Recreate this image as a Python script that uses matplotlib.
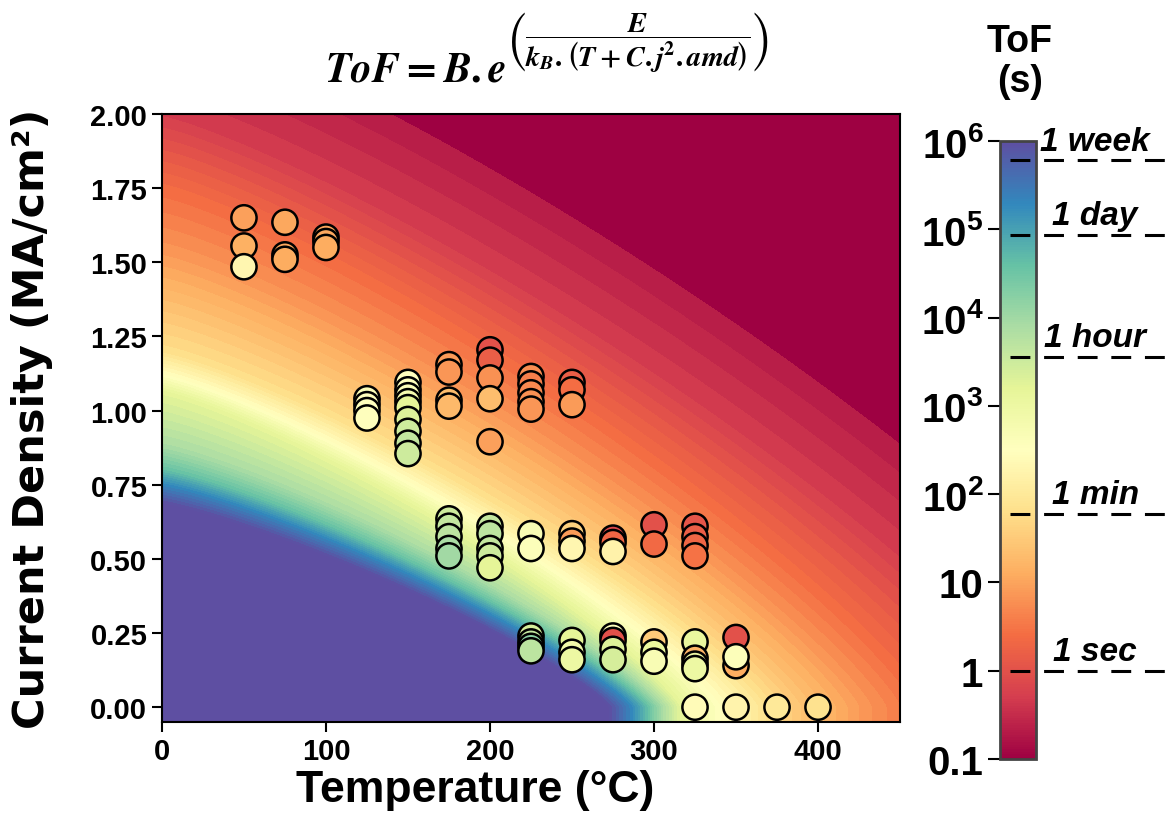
import numpy as np
import matplotlib
matplotlib.use("Agg")
import matplotlib.pyplot as plt
from matplotlib.colors import LogNorm, Normalize
import matplotlib.cm as cm

plt.rcParams['font.family'] = ['Liberation Sans', 'DejaVu Sans']
plt.rcParams['font.weight'] = 'bold'
plt.rcParams['mathtext.fontset'] = 'custom'
plt.rcParams['mathtext.rm'] = 'Liberation Sans:bold'
plt.rcParams['mathtext.bf'] = 'Liberation Sans:bold'
plt.rcParams['mathtext.it'] = 'Liberation Sans:bold:italic'

# ---------------- measured points (Temperature, current density, log10 ToF) -------------
temps = [50, 50, 50,
         75, 75, 75,
         100, 100, 100,
         125, 125, 125, 125,
         150, 150, 150, 150, 150, 150, 150, 150, 150,
         175, 175, 175, 175,
         200, 200, 200, 200, 200,
         225, 225, 225, 225, 225,
         250, 250, 250,
         175, 175, 175, 175, 175,
         200, 200, 200, 200, 200,
         225, 225,
         250, 250, 250,
         275, 275, 275,
         300, 300,
         325, 325, 325, 325,
         225, 225, 225, 225,
         250, 250, 250,
         275, 275, 275, 275,
         300, 300, 300,
         325, 325, 325, 325,
         350, 350, 350,
         325, 350, 375, 400]
current = [1.65, 1.555, 1.485,
           1.635, 1.525, 1.51,
           1.585, 1.57, 1.55,
           1.04, 1.02, 1.00, 0.975,
           1.095, 1.07, 1.05, 1.03, 1.01, 0.97, 0.93, 0.89, 0.855,
           1.155, 1.13, 1.035, 1.015,
           1.205, 1.17, 1.11, 1.04, 0.895,
           1.115, 1.09, 1.06, 1.03, 1.005,
           1.095, 1.07, 1.02,
           0.635, 0.61, 0.575, 0.535, 0.51,
           0.61, 0.585, 0.535, 0.51, 0.47,
           0.585, 0.535,
           0.585, 0.56, 0.535,
           0.57, 0.555, 0.525,
           0.615, 0.55,
           0.61, 0.575, 0.545, 0.51,
           0.24, 0.22, 0.205, 0.19,
           0.225, 0.185, 0.16,
           0.24, 0.225, 0.195, 0.16,
           0.22, 0.185, 0.155,
           0.22, 0.165, 0.145, 0.13,
           0.235, 0.14, 0.17,
           0.0, 0.0, 0.0, 0.0]
log_tof = [0.95, 1.15, 2.3,
           1.05, 1.05, 1.1,
           1.0, 1.05, 1.1,
           2.6, 2.55, 2.5, 2.55,
           2.5, 2.5, 2.6, 2.8, 3.2, 3.3, 3.5, 3.6, 3.5,
           0.9, 0.85, 1.3, 1.25,
           0.0, 0.2, 0.8, 1.3, 0.95,
           0.75, 0.6, 0.7, 0.8, 0.85,
           0.2, 0.4, 0.9,
           3.5, 3.6, 3.7, 3.9, 4.0,
           3.6, 3.7, 3.6, 3.5, 3.2,
           2.7, 2.6,
           1.6, 0.9, 2.3,
           -0.15, 0.3, 2.2,
           0.0, 0.35,
           0.05, 0.2, 0.3, 0.45,
           3.4, 3.6, 4.2, 3.7,
           3.2, 2.9, 3.0,
           2.5, 0.0, 3.3, 3.4,
           1.5, 3.1, 2.7,
           3.1, 1.2, 3.0, 3.0,
           0.0, 1.1, 2.6,
           2.4, 2.25, 2.0, 1.85]

x_ticks = [0, 100, 200, 300, 400]
y_ticks = [0.0, 0.25, 0.5, 0.75, 1.0, 1.25, 1.5, 1.75, 2.0]
cbar_ticks = [0.1, 1, 10, 100, 1e3, 1e4, 1e5, 1e6]
cbar_ticklabels = ['0.1', '1', '10', r'$\mathbf{10^2}$', r'$\mathbf{10^3}$',
                   r'$\mathbf{10^4}$', r'$\mathbf{10^5}$', r'$\mathbf{10^6}$']
time_marks = [604800, 86400, 3600, 60, 1]
time_labels = ['1 week', '1 day', '1 hour', '1 min', '1 sec']

# ---------------- background ToF surface -------------
# each iso-ToF contour (log10 ToF level) meets the T axis (j=0) and the j axis (T=0) here
bg_levels = [-2.5, -1.0, -0.7, -0.3, 0.4, 0.82, 1.38, 1.8, 2.5, 3.2, 3.9, 4.6, 5.3, 6.0, 7.5]
bg_T_intercept = [800, 690, 615, 540, 465, 430, 392, 370, 340, 316, 305, 296, 286, 272, 240]
bg_j_intercept = [3.1, 2.7, 2.33, 2.0, 1.75, 1.55, 1.35, 1.2, 1.12, 1.06, 0.88, 0.8, 0.75, 0.685, 0.6]
SHAPE_Q = 1.2        # superellipse exponent of the contour shape
DARK_LEVEL = -0.7    # below this the map is flat dark crimson

Tg = np.linspace(0, 450, 700)
Jg = np.linspace(-0.05, 2.0, 600)
TT, JJ = np.meshgrid(Tg, Jg)
Jp = np.clip(JJ, 0, None)
Lf = np.linspace(bg_levels[0], bg_levels[-1], 600)
Tcf = np.interp(Lf, bg_levels, bg_T_intercept)
jcf = np.interp(Lf, bg_levels, bg_j_intercept)
field = np.full(TT.shape, Lf[0])
Gprev = None
for k in range(len(Lf)):
    G = (TT / Tcf[k]) ** SHAPE_Q + (Jp / jcf[k]) ** SHAPE_Q
    if Gprev is not None:
        cross = (Gprev <= 1) & (G > 1)
        frac = (1 - Gprev[cross]) / (G[cross] - Gprev[cross])
        field[cross] = Lf[k - 1] + frac * (Lf[k] - Lf[k - 1])
    Gprev = G
field[Gprev <= 1] = Lf[-1]

cmap = plt.get_cmap('Spectral').copy()
cmap.set_under(cmap(0.0))
cmap.set_over(cmap(1.0))
norm = Normalize(vmin=-1, vmax=6)

fig = plt.figure(figsize=(11.71, 8.28), dpi=100)
ax = fig.add_axes([0.1383, 0.1268, 0.6303, 0.7343])
ax.contourf(TT, JJ, field, levels=np.linspace(DARK_LEVEL, 6, 64), cmap=cmap,
            norm=norm, extend='both')
ax.scatter(temps, current, c=log_tof, cmap=cmap, norm=norm, s=330,
           edgecolors='black', linewidths=1.8, zorder=3)
ax.set_xlim(0, 450)
ax.set_ylim(-0.05, 2.0)
ax.set_xticks(x_ticks)
ax.set_yticks(y_ticks)
ax.set_yticklabels([f'{v:.2f}' for v in y_ticks])
ax.tick_params(labelsize=21, width=1.5, length=7)
for sp in ax.spines.values():
    sp.set_linewidth(1.5)
ax.set_xlabel('Temperature (°C)', fontsize=32, fontweight='bold')
ax.xaxis.set_label_coords(0.424, -0.078)
ax.set_ylabel('Current Density (MA/cm²)', fontsize=31, fontweight='bold',
              family='DejaVu Sans')
ax.yaxis.set_label_coords(-0.147, 0.5)

# formula title
t1 = fig.text(0.2775, 0.901, r'$\boldsymbol{ToF = B.e}$', fontsize=30,
              ha='left', va='baseline', math_fontfamily='stix')
renderer = fig.canvas.get_renderer()
bb = t1.get_window_extent(renderer)
x_exp = (bb.x1 + 1) / fig.bbox.width
fig.text(x_exp, 0.949,
         r'$\left(\dfrac{\boldsymbol{E}}{\boldsymbol{k}_{\boldsymbol{B}}\boldsymbol{.}\left(\boldsymbol{T+C.j}^{\mathbf{2}}\boldsymbol{.amd}\right)}\right)$',
         fontsize=20.5, ha='left', va='center', math_fontfamily='stix')

# colorbar
cax = fig.add_axes([0.854, 0.0821, 0.031, 0.7464])
sm = cm.ScalarMappable(norm=LogNorm(vmin=0.1, vmax=1e6), cmap=plt.get_cmap('Spectral'))
cb = fig.colorbar(sm, cax=cax)
cb.set_ticks(cbar_ticks)
cb.set_ticklabels(cbar_ticklabels)
cax.yaxis.set_ticks_position('left')
cax.tick_params(which='major', labelsize=29, length=9, width=1.5, pad=3)
cax.tick_params(which='minor', length=0)
cb.outline.set_linewidth(2)
cb.outline.set_edgecolor('#444444')
fig.text(0.871, 0.925, 'ToF\n(s)', ha='center', va='center', fontsize=27,
         fontweight='bold', linespacing=1.15)

ytr = cax.get_yaxis_transform()
for v, lab in zip(time_marks, time_labels):
    cax.plot([0.28, 4.6], [v, v], transform=ytr, clip_on=False, color='black',
             lw=2.2, dashes=(6.5, 4.5))
    cax.text(2.62, v * 1.1, lab, transform=ytr, ha='center', va='bottom',
             fontsize=24, fontweight='bold', fontstyle='italic', clip_on=False)

fig.savefig('out.png', dpi=100)
